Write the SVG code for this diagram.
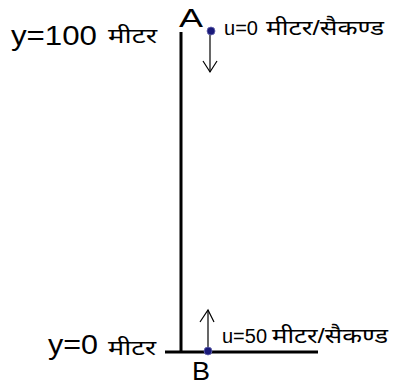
<svg xmlns="http://www.w3.org/2000/svg" width="395" height="387" viewBox="0 0 395 387">
<style>
.t{font-family:"Liberation Sans","Noto Sans",sans-serif;fill:#000}
.big{font-size:27px}
.dev{font-size:21px}
.sm{font-size:20px}
.lbl{font-size:25px}
.ln{stroke:#000;stroke-width:3;fill:none}
.ar{stroke:#000;stroke-width:1.2;fill:none}
.dot{fill:#1a1a7a;stroke:#6a6ab0;stroke-width:0.8}
</style>
<rect width="395" height="387" fill="#fff"/>
<g id="connectors">
<line class="ln" x1="181" y1="32" x2="181" y2="352"/>
<line class="ln" x1="165" y1="352" x2="318" y2="352"/>
<line class="ar" x1="210" y1="33" x2="210" y2="72"/>
<polyline class="ar" points="203,61 210,72 217,61"/>
<line class="ar" x1="208" y1="349" x2="208" y2="310"/>
<polyline class="ar" points="200,322 208,310 214,322"/>
</g>
<g id="label-top">
<text class="t big" x="11" y="45" textLength="86" lengthAdjust="spacingAndGlyphs">y=100</text>
<text class="t dev" x="108" y="43" textLength="49" lengthAdjust="spacingAndGlyphs">मीटर</text>
</g>
<g id="node-A">
<text class="t lbl" x="179" y="27" textLength="24" lengthAdjust="spacingAndGlyphs">A</text>
<circle class="dot" cx="211" cy="31" r="4"/>
<text class="t sm" x="224" y="35" textLength="34" lengthAdjust="spacingAndGlyphs">u=0</text>
<text class="t dev" x="266" y="35" textLength="118" lengthAdjust="spacingAndGlyphs">मीटर/सैकण्ड</text>
</g>
<g id="label-bottom">
<text class="t big" x="48" y="354" textLength="50" lengthAdjust="spacingAndGlyphs">y=0</text>
<text class="t dev" x="108" y="355" textLength="48" lengthAdjust="spacingAndGlyphs">मीटर</text>
</g>
<g id="node-B">
<circle class="dot" cx="208" cy="351" r="4"/>
<text class="t lbl" x="192" y="380" textLength="18" lengthAdjust="spacingAndGlyphs">B</text>
<text class="t sm" x="222" y="343" textLength="45" lengthAdjust="spacingAndGlyphs">u=50</text>
<text class="t dev" x="272" y="343" textLength="116" lengthAdjust="spacingAndGlyphs">मीटर/सैकण्ड</text>
</g>
</svg>
